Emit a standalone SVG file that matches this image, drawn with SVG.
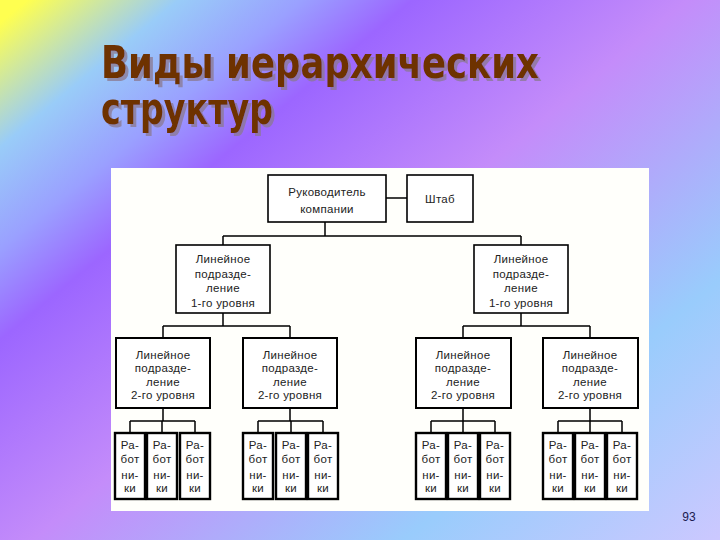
<svg xmlns="http://www.w3.org/2000/svg" width="720" height="540" viewBox="0 0 720 540">
  <defs>
    <linearGradient id="bg" gradientUnits="userSpaceOnUse" x1="0" y1="0" x2="556" y2="675">
      <stop offset="0.02" stop-color="#ffff50"/>
      <stop offset="0.13" stop-color="#99ccf8"/>
      <stop offset="0.22" stop-color="#9aa0ff"/>
      <stop offset="0.30" stop-color="#9c66ff"/>
      <stop offset="0.50" stop-color="#c48cfa"/>
      <stop offset="0.77" stop-color="#99ccfc"/>
      <stop offset="1" stop-color="#ccc8ff"/>
    </linearGradient>
    <filter id="shadow" x="-5%" y="-20%" width="115%" height="150%">
      <feDropShadow dx="3" dy="3" stdDeviation="0.6" flood-color="#8a7890" flood-opacity="0.75"/>
    </filter>
  </defs>
  <style>
    .title { font-family: "DejaVu Sans", "Liberation Sans", sans-serif; font-weight: bold; font-size: 44px; fill: #6e3000; }
    .box { fill: #ffffff; stroke: #000000; stroke-width: 1.6; }
    .box2 { fill: #ffffff; stroke: #000000; stroke-width: 2; }
    .wbox { fill: #ffffff; stroke: #000000; stroke-width: 2.4; }
    .lbl { font-family: "Liberation Sans", Arial, sans-serif; font-size: 11.5px; fill: #222222; text-anchor: middle; letter-spacing: 0.3px; }
    .conn { fill: none; stroke: #000000; stroke-width: 1.5; }
    .num { font-family: "Liberation Sans", Arial, sans-serif; font-size: 12px; fill: #1a1a50; text-anchor: middle; }
  </style>

  <rect x="0" y="0" width="720" height="540" fill="url(#bg)"/>

  <g id="title" filter="url(#shadow)">
    <text class="title" x="101" y="78" textLength="438" lengthAdjust="spacingAndGlyphs">Виды иерархических</text>
    <text class="title" x="101" y="124" textLength="172" lengthAdjust="spacingAndGlyphs">структур</text>
  </g>

  <rect id="panel" x="111" y="168" width="538" height="343" fill="#fffffb"/>

  <g id="connectors">
    <path class="conn" d="M386 198 H407"/>
    <path class="conn" d="M325 222 V236 M223 236 H521 M223 236 V245 M521 236 V245"/>
    <path class="conn" d="M223 313 V326 M163 326 H290 M163 326 V338 M290 326 V338"/>
    <path class="conn" d="M521 313 V326 M463 326 H590 M463 326 V338 M590 326 V338"/>
    <path class="conn" d="M163 408 V421 M130 421 H195 M130 421 V433 M162 421 V433 M195 421 V433"/>
    <path class="conn" d="M290 408 V421 M258 421 H323 M258 421 V433 M291 421 V433 M323 421 V433"/>
    <path class="conn" d="M463 408 V421 M431 421 H495 M431 421 V433 M463 421 V433 M495 421 V433"/>
    <path class="conn" d="M590 408 V421 M558 421 H622 M558 421 V433 M590 421 V433 M622 421 V433"/>
  </g>

  <g id="ceo">
    <rect class="box" x="268" y="175" width="118" height="47"/>
    <text class="lbl" x="327" y="196">Руководитель</text>
    <text class="lbl" x="327" y="213">компании</text>
  </g>
  <g id="staff">
    <rect class="box" x="407" y="175" width="66" height="47"/>
    <text class="lbl" x="440" y="203">Штаб</text>
  </g>

  <g id="l1-left">
    <rect class="box" x="176" y="245" width="94" height="68"/>
    <text class="lbl" x="223" y="263">Линейное</text>
    <text class="lbl" x="223" y="278">подразде-</text>
    <text class="lbl" x="223" y="292">ление</text>
    <text class="lbl" x="223" y="307">1-го уровня</text>
  </g>
  <g id="l1-right">
    <rect class="box" x="474" y="245" width="94" height="68"/>
    <text class="lbl" x="521" y="263">Линейное</text>
    <text class="lbl" x="521" y="278">подразде-</text>
    <text class="lbl" x="521" y="292">ление</text>
    <text class="lbl" x="521" y="307">1-го уровня</text>
  </g>

  <g id="l2-a">
    <rect class="box2" x="116" y="338" width="94" height="70"/>
    <text class="lbl" x="163" y="359">Линейное</text>
    <text class="lbl" x="163" y="372">подразде-</text>
    <text class="lbl" x="163" y="386">ление</text>
    <text class="lbl" x="163" y="399">2-го уровня</text>
  </g>
  <g id="l2-b">
    <rect class="box2" x="243" y="338" width="94" height="70"/>
    <text class="lbl" x="290" y="359">Линейное</text>
    <text class="lbl" x="290" y="372">подразде-</text>
    <text class="lbl" x="290" y="386">ление</text>
    <text class="lbl" x="290" y="399">2-го уровня</text>
  </g>
  <g id="l2-c">
    <rect class="box2" x="416" y="338" width="95" height="70"/>
    <text class="lbl" x="463" y="359">Линейное</text>
    <text class="lbl" x="463" y="372">подразде-</text>
    <text class="lbl" x="463" y="386">ление</text>
    <text class="lbl" x="463" y="399">2-го уровня</text>
  </g>
  <g id="l2-d">
    <rect class="box2" x="543" y="338" width="95" height="70"/>
    <text class="lbl" x="590" y="359">Линейное</text>
    <text class="lbl" x="590" y="372">подразде-</text>
    <text class="lbl" x="590" y="386">ление</text>
    <text class="lbl" x="590" y="399">2-го уровня</text>
  </g>

  <g id="w-a1"><rect class="wbox" x="115" y="433" width="30" height="66"/><text class="lbl" x="130" y="449">Ра-</text><text class="lbl" x="130" y="463">бот</text><text class="lbl" x="130" y="479">ни-</text><text class="lbl" x="130" y="492">ки</text></g>
  <g id="w-a2"><rect class="wbox" x="147" y="433" width="30" height="66"/><text class="lbl" x="162" y="449">Ра-</text><text class="lbl" x="162" y="463">бот</text><text class="lbl" x="162" y="479">ни-</text><text class="lbl" x="162" y="492">ки</text></g>
  <g id="w-a3"><rect class="wbox" x="180" y="433" width="30" height="66"/><text class="lbl" x="195" y="449">Ра-</text><text class="lbl" x="195" y="463">бот</text><text class="lbl" x="195" y="479">ни-</text><text class="lbl" x="195" y="492">ки</text></g>

  <g id="w-b1"><rect class="wbox" x="243" y="433" width="30" height="66"/><text class="lbl" x="258" y="449">Ра-</text><text class="lbl" x="258" y="463">бот</text><text class="lbl" x="258" y="479">ни-</text><text class="lbl" x="258" y="492">ки</text></g>
  <g id="w-b2"><rect class="wbox" x="276" y="433" width="30" height="66"/><text class="lbl" x="291" y="449">Ра-</text><text class="lbl" x="291" y="463">бот</text><text class="lbl" x="291" y="479">ни-</text><text class="lbl" x="291" y="492">ки</text></g>
  <g id="w-b3"><rect class="wbox" x="308" y="433" width="30" height="66"/><text class="lbl" x="323" y="449">Ра-</text><text class="lbl" x="323" y="463">бот</text><text class="lbl" x="323" y="479">ни-</text><text class="lbl" x="323" y="492">ки</text></g>

  <g id="w-c1"><rect class="wbox" x="416" y="433" width="30" height="66"/><text class="lbl" x="431" y="449">Ра-</text><text class="lbl" x="431" y="463">бот</text><text class="lbl" x="431" y="479">ни-</text><text class="lbl" x="431" y="492">ки</text></g>
  <g id="w-c2"><rect class="wbox" x="448" y="433" width="30" height="66"/><text class="lbl" x="463" y="449">Ра-</text><text class="lbl" x="463" y="463">бот</text><text class="lbl" x="463" y="479">ни-</text><text class="lbl" x="463" y="492">ки</text></g>
  <g id="w-c3"><rect class="wbox" x="480" y="433" width="30" height="66"/><text class="lbl" x="495" y="449">Ра-</text><text class="lbl" x="495" y="463">бот</text><text class="lbl" x="495" y="479">ни-</text><text class="lbl" x="495" y="492">ки</text></g>

  <g id="w-d1"><rect class="wbox" x="543" y="433" width="30" height="66"/><text class="lbl" x="558" y="449">Ра-</text><text class="lbl" x="558" y="463">бот</text><text class="lbl" x="558" y="479">ни-</text><text class="lbl" x="558" y="492">ки</text></g>
  <g id="w-d2"><rect class="wbox" x="575" y="433" width="30" height="66"/><text class="lbl" x="590" y="449">Ра-</text><text class="lbl" x="590" y="463">бот</text><text class="lbl" x="590" y="479">ни-</text><text class="lbl" x="590" y="492">ки</text></g>
  <g id="w-d3"><rect class="wbox" x="607" y="433" width="30" height="66"/><text class="lbl" x="622" y="449">Ра-</text><text class="lbl" x="622" y="463">бот</text><text class="lbl" x="622" y="479">ни-</text><text class="lbl" x="622" y="492">ки</text></g>

  <text id="page-number" class="num" x="689" y="521">93</text>
</svg>
